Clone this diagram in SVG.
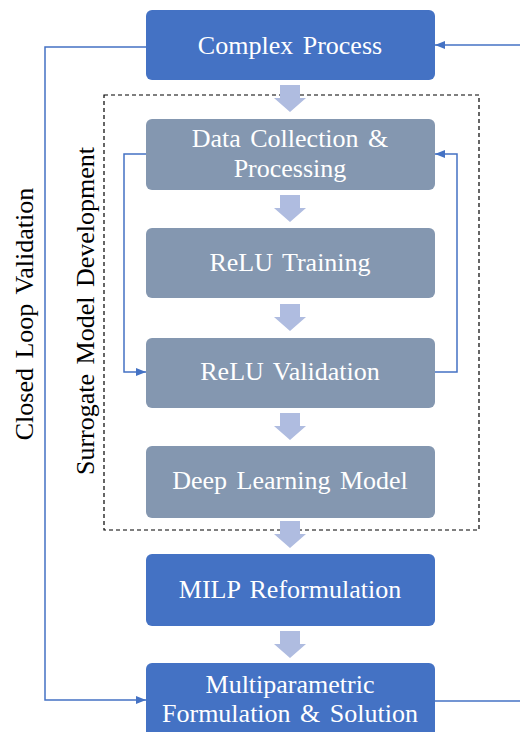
<svg xmlns="http://www.w3.org/2000/svg" width="520" height="732" viewBox="0 0 520 732">
<style>
.blue{fill:#4472C4}
.gray{fill:#8497B0}
.lbl{font-family:"Liberation Serif","Times New Roman",serif;font-size:26px;fill:#ffffff;text-anchor:middle;word-spacing:3px}
.side{font-family:"Liberation Serif","Times New Roman",serif;font-size:26px;fill:#000000;text-anchor:middle;word-spacing:3px}
.conn{fill:none;stroke:#4472C4;stroke-width:1.5}
.blk{fill:#AFBCE0}
</style>
<defs>
<marker id="ah" viewBox="0 0 10 8" refX="10" refY="4" markerWidth="10" markerHeight="8" markerUnits="userSpaceOnUse" orient="auto">
<path d="M0,0 L10,4 L0,8 Z" fill="#4472C4"/>
</marker>
<path id="barrow" d="M-10,0 H10 V13 H16 L0,27 L-16,13 H-10 Z"/>
</defs>
<rect x="104" y="95" width="375" height="435" fill="none" stroke="#000" stroke-width="1.2" stroke-dasharray="4,3"/>
<text class="side" transform="translate(33,314) rotate(-90)">Closed Loop Validation</text>
<text class="side" transform="translate(94,311) rotate(-90)">Surrogate Model Development</text>
<g id="connectors">
<use href="#barrow" class="blk" x="290" y="85"/>
<use href="#barrow" class="blk" x="290" y="195"/>
<use href="#barrow" class="blk" x="290" y="304"/>
<use href="#barrow" class="blk" x="290" y="413"/>
<use href="#barrow" class="blk" x="290" y="521"/>
<use href="#barrow" class="blk" x="290" y="631"/>
<polyline class="conn" points="146,154 124,154 124,372 146,372" marker-end="url(#ah)"/>
<polyline class="conn" points="435,372 457,372 457,154 435,154" marker-end="url(#ah)"/>
<polyline class="conn" points="146,47 45,47 45,700 146,700" marker-end="url(#ah)"/>
<polyline class="conn" points="520,45 435,45" marker-end="url(#ah)"/>
<polyline class="conn" points="435,701 520,701"/>
</g>
<g id="complex-process">
<rect class="blue" x="146" y="10" width="289" height="70" rx="6"/>
<text class="lbl" x="290" y="54">Complex Process</text>
</g>
<g id="data-collection">
<rect class="gray" x="146" y="119" width="289" height="71" rx="6"/>
<text class="lbl" x="290" y="147">Data Collection &amp;</text>
<text class="lbl" x="290" y="177">Processing</text>
</g>
<g id="relu-training">
<rect class="gray" x="146" y="228" width="289" height="70" rx="6"/>
<text class="lbl" x="290" y="271">ReLU Training</text>
</g>
<g id="relu-validation">
<rect class="gray" x="146" y="338" width="289" height="70" rx="6"/>
<text class="lbl" x="290" y="380">ReLU Validation</text>
</g>
<g id="deep-learning">
<rect class="gray" x="146" y="446" width="289" height="72" rx="6"/>
<text class="lbl" x="290" y="489">Deep Learning Model</text>
</g>
<g id="milp">
<rect class="blue" x="146" y="554" width="289" height="72" rx="6"/>
<text class="lbl" x="290" y="598">MILP Reformulation</text>
</g>
<g id="multiparametric">
<rect class="blue" x="146" y="663" width="289" height="74" rx="6"/>
<text class="lbl" x="290" y="693">Multiparametric</text>
<text class="lbl" x="290" y="722">Formulation &amp; Solution</text>
</g>
</svg>
